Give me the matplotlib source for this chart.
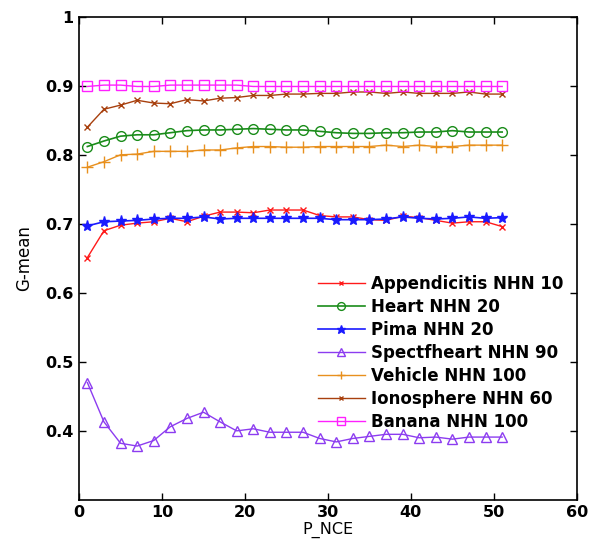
import numpy as np
import matplotlib
matplotlib.use('Agg')
import matplotlib.pyplot as plt

plt.rcParams['font.family'] = ['DejaVu Sans']
plt.rcParams['font.weight'] = 'bold'

# datos
p_nce = [1, 3, 5, 7, 9, 11, 13, 15, 17, 19, 21, 23, 25, 27, 29, 31, 33, 35, 37, 39, 41, 43, 45, 47, 49, 51]

appendicitis = [0.651, 0.690, 0.698, 0.701, 0.703, 0.708, 0.703, 0.711, 0.717, 0.717, 0.716, 0.720, 0.720,
                0.720, 0.712, 0.710, 0.710, 0.706, 0.705, 0.711, 0.709, 0.705, 0.701, 0.703, 0.703, 0.696]
heart = [0.812, 0.820, 0.827, 0.829, 0.829, 0.832, 0.835, 0.836, 0.836, 0.837, 0.838, 0.837, 0.836,
         0.836, 0.834, 0.832, 0.831, 0.831, 0.832, 0.832, 0.833, 0.833, 0.835, 0.833, 0.833, 0.833]
pima = [0.697, 0.703, 0.704, 0.705, 0.707, 0.708, 0.708, 0.710, 0.707, 0.708, 0.708, 0.708, 0.708,
        0.708, 0.708, 0.706, 0.706, 0.706, 0.707, 0.710, 0.708, 0.707, 0.708, 0.710, 0.708, 0.709]
spectfheart = [0.470, 0.413, 0.382, 0.378, 0.386, 0.406, 0.418, 0.427, 0.413, 0.400, 0.403, 0.398, 0.398,
               0.398, 0.389, 0.384, 0.389, 0.392, 0.395, 0.395, 0.390, 0.391, 0.388, 0.391, 0.391, 0.391]
vehicle = [0.782, 0.790, 0.800, 0.801, 0.805, 0.805, 0.805, 0.807, 0.807, 0.810, 0.812, 0.812, 0.811,
           0.811, 0.812, 0.812, 0.812, 0.812, 0.814, 0.812, 0.814, 0.812, 0.812, 0.814, 0.814, 0.814]
ionosphere = [0.840, 0.866, 0.872, 0.879, 0.875, 0.874, 0.880, 0.878, 0.882, 0.883, 0.886, 0.886, 0.888,
              0.888, 0.889, 0.889, 0.891, 0.891, 0.889, 0.891, 0.889, 0.889, 0.889, 0.891, 0.888, 0.888]
banana = [0.899, 0.901, 0.901, 0.899, 0.899, 0.901, 0.901, 0.901, 0.901, 0.901, 0.899, 0.899, 0.899,
          0.899, 0.899, 0.899, 0.899, 0.899, 0.899, 0.899, 0.899, 0.899, 0.899, 0.899, 0.899, 0.899]

etiquetas = ['Appendicitis NHN 10', 'Heart NHN 20', 'Pima NHN 20', 'Spectfheart NHN 90',
             'Vehicle NHN 100', 'Ionosphere NHN 60', 'Banana NHN 100']

fig = plt.figure(figsize=(5.99, 5.41), dpi=100)
ax = fig.add_axes([0.132, 0.076, 0.831, 0.893])

ax.plot(p_nce, appendicitis, '-', color='#ff1a1a', marker='x', ms=4, mew=1, lw=1, label=etiquetas[0])
ax.plot(p_nce, heart, '-', color='#1a8c1a', marker='o', ms=7, mfc='none', mew=1, lw=1.2, label=etiquetas[1])
ax.plot(p_nce, pima, '-', color='#1a1aff', marker='*', ms=8, lw=1.2, label=etiquetas[2])
ax.plot(p_nce, spectfheart, '-', color='#8c3cf0', marker='^', ms=7, mfc='none', mew=1, lw=1, label=etiquetas[3])
ax.plot(p_nce, vehicle, '-', color='#e8901e', marker='+', ms=8, mew=1, lw=1, label=etiquetas[4])
ax.plot(p_nce, ionosphere, '-', color='#a8400e', marker='x', ms=4, mew=1, lw=1, label=etiquetas[5])
ax.plot(p_nce, banana, '-', color='#ff20ff', marker='s', ms=7, mfc='none', mew=1, lw=1, label=etiquetas[6])

ax.set_xlim(0, 60)
ax.set_ylim(0.3, 1.0)
ax.set_xticks([0, 10, 20, 30, 40, 50, 60])
ax.set_yticks([0.4, 0.5, 0.6, 0.7, 0.8, 0.9, 1.0])
ax.set_yticklabels(['0.4', '0.5', '0.6', '0.7', '0.8', '0.9', '1'])
ax.tick_params(direction='in', length=5, width=1, top=True, right=True, labelsize=11.5, pad=4)
for s in ax.spines.values():
    s.set_linewidth(1.2)

ax.set_xlabel('P_NCE', fontsize=11.5, labelpad=1)
ax.set_ylabel('G-mean', fontsize=12, labelpad=9)

ax.legend(loc='upper left', bbox_to_anchor=(0.531, 0.492), bbox_transform=fig.transFigure,
          frameon=False, fontsize=12, handlelength=2.8, handletextpad=0.35, labelspacing=0.30,
          borderpad=0, borderaxespad=0, markerscale=0.8)

plt.savefig('out.png', dpi=100)
